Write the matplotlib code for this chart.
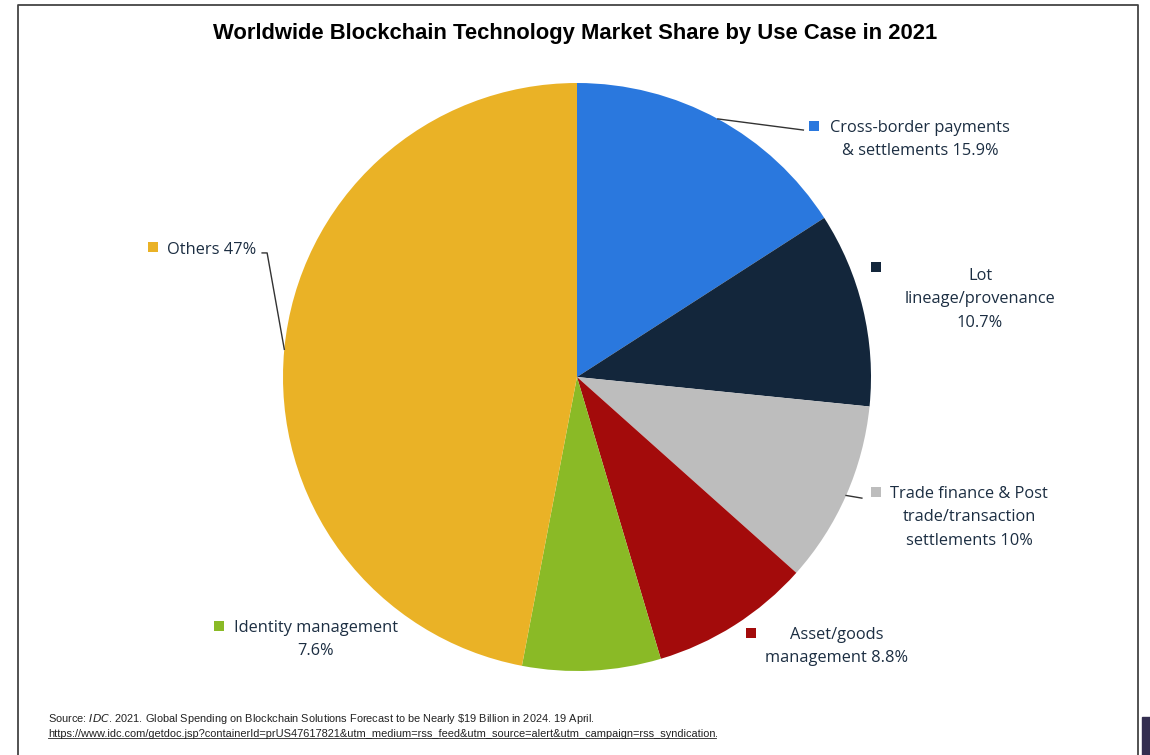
import matplotlib.pyplot as plt
import numpy as np
from matplotlib.lines import Line2D
from matplotlib.patches import Rectangle

# data
labels = ['Cross-border payments\n& settlements 15.9%',
          'Lot\nlineage/provenance\n10.7%',
          'Trade finance & Post\ntrade/transaction\nsettlements 10%',
          'Asset/goods\nmanagement 8.8%',
          'Identity management\n7.6%',
          'Others 47%']
shares = [15.9, 10.7, 10.0, 8.8, 7.6, 47.0]
colors = ['#2a78de', '#13263b', '#bdbdbd', '#a30b0b', '#8aba26', '#eab226']

W, H = 1150, 755
cx, cy, r = 577, 377, 294

# label layout in pixels: text anchor (x, top of first line), marker centre
text_px = [(920, 120), (980, 268), (969, 486), (837, 627), (316, 620), (167, 242)]
marker_px = [(814, 126), (876, 267), (876, 492), (751, 633), (219, 626), (153, 247)]
text_ha = ['center', 'center', 'center', 'center', 'center', 'left']
text_col = '#1c2e42'


def to_data(p):
    return (p[0] - cx) / r, (cy - p[1]) / r


fig = plt.figure(figsize=(W / 100, H / 100), dpi=100)
ax = fig.add_axes([(cx - r) / W, (H - cy - r) / H, 2 * r / W, 2 * r / H])
ax.pie(shares, colors=colors, startangle=90, counterclock=False,
       wedgeprops=dict(linewidth=0), radius=1)
ax.set_xlim(-1, 1)
ax.set_ylim(-1, 1)
ax.set_aspect('equal')
ax.axis('off')

for i, (lab, col) in enumerate(zip(labels, colors)):
    tx, ty = to_data(text_px[i])
    mx, my = to_data(marker_px[i])
    ax.text(tx, ty, lab, ha=text_ha[i], va='top', fontsize=11.8, family='Open Sans',
            color=text_col, linespacing=1.62, multialignment='center', clip_on=False)
    ax.plot(mx, my, marker='s', ms=7, color=col, mew=0, clip_on=False)

# leader lines from wedge midpoints
start = 90
mids = []
for s in shares:
    mids.append(np.deg2rad(start - s * 3.6 / 2))
    start -= s * 3.6
lc = '#333333'
a = mids[0]
ax.plot([np.cos(a), 0.77], [np.sin(a), 0.84], color=lc, lw=1, clip_on=False)
a = mids[2]
ax.plot([np.cos(a), 0.969], [np.sin(a), -0.412], color=lc, lw=1, clip_on=False)
a = mids[5]
ax.plot([np.cos(a), -1.054, -1.071], [np.sin(a), 0.422, 0.422], color=lc, lw=1, clip_on=False)

fig.text(0.5, 1 - 33 / H, 'Worldwide Blockchain Technology Market Share by Use Case in 2021',
         ha='center', va='center', fontsize=15.8, fontweight='bold', family='Liberation Sans')

fs = 7.9
fig.text(48 / W, 1 - 719 / H,
         'Source: $\\it{IDC}$. 2021. Global Spending on Blockchain Solutions Forecast to be Nearly \\$19 Billion in 2024. 19 April.',
         ha='left', va='center', fontsize=fs, family='Liberation Sans', color='#222222')
url = fig.text(48 / W, 1 - 734 / H,
               'https://www.idc.com/getdoc.jsp?containerId=prUS47617821&utm_medium=rss_feed&utm_source=alert&utm_campaign=rss_syndication',
               ha='left', va='center', fontsize=fs, family='Liberation Sans', color='#222222')
fig.canvas.draw()
bb = url.get_window_extent().transformed(fig.transFigure.inverted())
fig.text(bb.x1, 1 - 734 / H, '.', ha='left', va='center', fontsize=fs, family='Liberation Sans', color='#222222')
fig.add_artist(Line2D([bb.x0, bb.x1], [bb.y0 + 0.001, bb.y0 + 0.001], color='#222222', lw=0.6))

# frame
fc = '#444444'
fig.add_artist(Line2D([17.5 / W, 17.5 / W, 1137.5 / W, 1137.5 / W],
                      [0, 1 - 4.5 / H, 1 - 4.5 / H, 0], color=fc, lw=1.3))
fig.add_artist(Rectangle((1142 / W, 0), 8 / W, 38 / H, color='#332e50', transform=fig.transFigure))

fig.savefig('out.png', dpi=100)
